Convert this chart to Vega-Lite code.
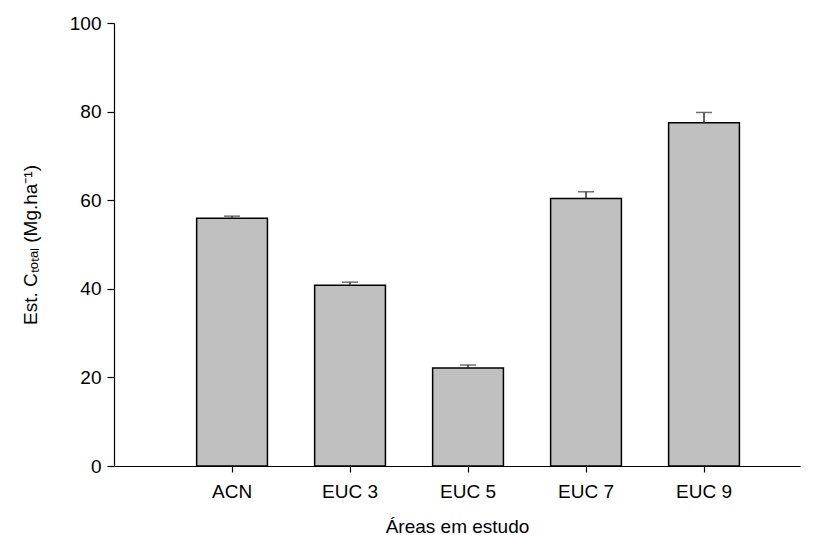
{
  "$schema": "https://vega.github.io/schema/vega-lite/v6.json",
  "autosize": {"type": "none"},
  "padding": {"left": 114, "top": 23, "right": 14, "bottom": 69},
  "width": 686,
  "height": 443,
  "background": "white",
  "config": {
    "view": {"stroke": null},
    "font": "Liberation Sans",
    "axis": {
      "domainColor": "black",
      "domainWidth": 1.2,
      "tickColor": "black",
      "tickWidth": 1.2,
      "grid": false,
      "labelFont": "Liberation Sans",
      "titleFont": "Liberation Sans",
      "labelFontSize": 19,
      "titleFontSize": 19,
      "labelColor": "black",
      "titleColor": "black",
      "titleFontWeight": "normal"
    }
  },
  "data": {
    "values": [
      {"area": "ACN", "mean": 55.9, "upper": 56.4},
      {"area": "EUC 3", "mean": 40.8, "upper": 41.5},
      {"area": "EUC 5", "mean": 22.1, "upper": 22.8},
      {"area": "EUC 7", "mean": 60.4, "upper": 61.9},
      {"area": "EUC 9", "mean": 77.5, "upper": 79.8}
    ]
  },
  "encoding": {
    "x": {
      "field": "area",
      "type": "nominal",
      "sort": null,
      "scale": {"paddingInner": 0.4, "paddingOuter": 0.607, "align": 0.577},
      "axis": {
        "title": "Áreas em estudo",
        "labelAngle": 0,
        "tickSize": 6,
        "labelPadding": 10,
        "titlePadding": 16
      }
    }
  },
  "layer": [
    {
      "mark": {"type": "bar", "fill": "#c0c0c0", "stroke": "black", "strokeWidth": 1.5},
      "encoding": {
        "y": {
          "field": "mean",
          "type": "quantitative",
          "scale": {"domain": [0, 100], "nice": false},
          "axis": {
            "title": "Est. Cₜₒₜₐₗ (Mg.ha⁻¹)",
            "values": [0, 20, 40, 60, 80, 100],
            "tickSize": 7,
            "labelPadding": 6,
            "titlePadding": 29
          }
        }
      }
    },
    {
      "mark": {"type": "rule", "color": "#333333", "strokeWidth": 1.5},
      "encoding": {
        "y": {"field": "mean", "type": "quantitative"},
        "y2": {"field": "upper"}
      }
    },
    {
      "mark": {"type": "tick", "color": "#333333", "thickness": 1.5, "size": 16},
      "encoding": {
        "y": {"field": "upper", "type": "quantitative"}
      }
    }
  ]
}
